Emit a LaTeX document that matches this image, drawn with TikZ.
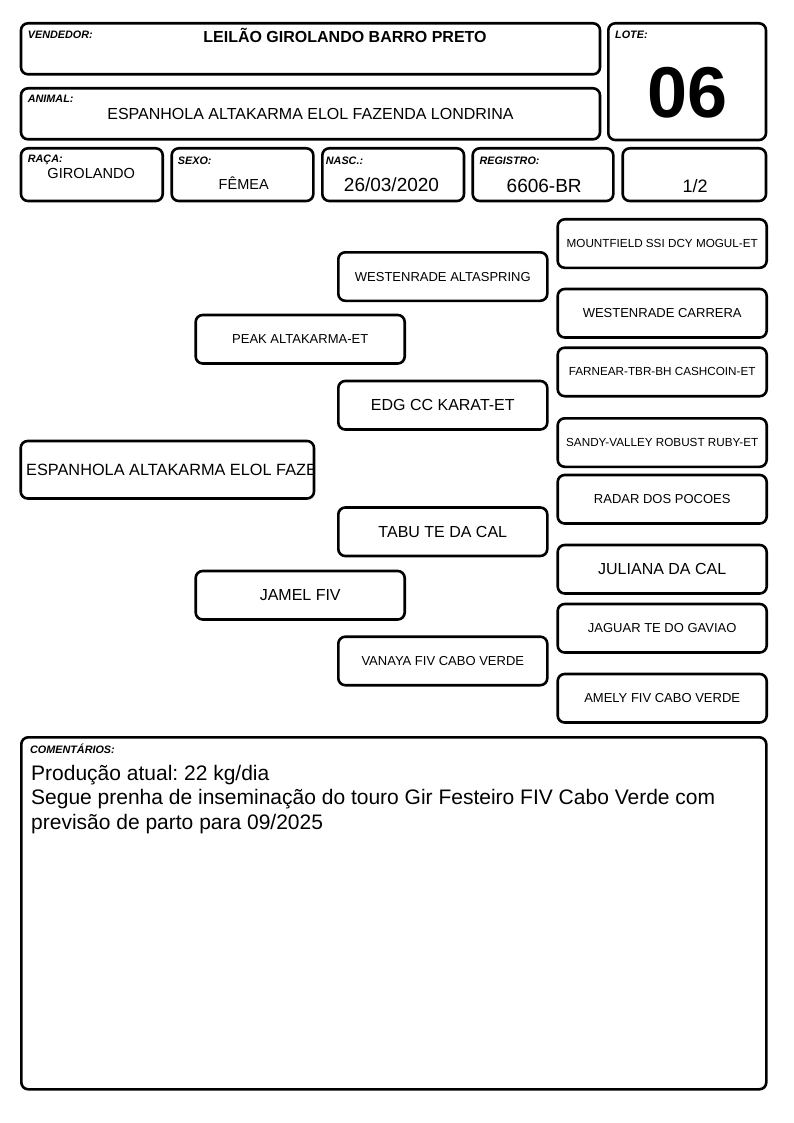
\documentclass[tikz,border=0pt]{standalone}
\usepackage{fontspec}
\setmainfont{Liberation Sans}
\frenchspacing
\begin{document}
\begin{tikzpicture}[x=1pt,y=-1pt,
  bx/.style={draw, line width=2.6pt, rounded corners=7pt, inner sep=0pt, outer sep=0pt, anchor=north west},
  lbl/.style={font=\fontsize{10.8}{12}\selectfont\bfseries\itshape, anchor=base west, inner sep=0pt},
  val/.style={anchor=base, inner sep=0pt},
  ped/.style={bx, minimum width=209pt, minimum height=48.5pt, align=center},
  pa/.style={font=\fontsize{11.7}{14}\selectfont},
  pb/.style={font=\fontsize{13}{15}\selectfont},
  pc/.style={font=\fontsize{16}{19}\selectfont},
  ]
\useasboundingbox (0,0) rectangle (794,1123);
% header boxes
\node[bx, minimum width=579pt, minimum height=51pt] (vend) at (21,23.3) {};
\node[bx, minimum width=579pt, minimum height=51pt] (anim) at (21,88.3) {};
\node[bx, minimum width=157.7pt, minimum height=116.7pt] (lote) at (608.3,23.3) {};
\node[bx, minimum width=141.7pt, minimum height=52.7pt] (raca) at (21,148.3) {};
\node[bx, minimum width=141.6pt, minimum height=52.7pt] (sexo) at (171.7,148.3) {};
\node[bx, minimum width=141.7pt, minimum height=52.7pt] (nasc) at (322.3,148.3) {};
\node[bx, minimum width=140.6pt, minimum height=52.7pt] (reg) at (472.7,148.3) {};
\node[bx, minimum width=143.3pt, minimum height=52.7pt] (part) at (622.7,148.3) {};
% header texts
\node[lbl] (vendL) at (27.7,39) {VENDEDOR:};
\node[val, font=\fontsize{16}{19}\selectfont\bfseries] (vendV) at (345,43) {LEILÃO GIROLANDO BARRO PRETO};
\node[lbl] (animL) at (27.7,103) {ANIMAL:};
\node[val, font=\fontsize{16}{19}\selectfont] (animV) at (310.5,119.3) {ESPANHOLA ALTAKARMA ELOL FAZENDA LONDRINA};
\node[lbl] (loteL) at (615,38.3) {LOTE:};
\node[val, font=\fontsize{72}{80}\selectfont\bfseries] (loteV) at (687.5,117.7) {06};
\node[lbl] (racaL) at (27.7,162.7) {RAÇA:};
\node[val, font=\fontsize{14.6}{17}\selectfont] (racaV) at (91.3,178.3) {GIROLANDO};
\node[lbl] (sexoL) at (177.7,165) {SEXO:};
\node[val, font=\fontsize{14.5}{17}\selectfont] (sexoV) at (243.7,189.3) {FÊMEA};
\node[lbl] (nascL) at (325.7,165) {NASC.:};
\node[val, font=\fontsize{19}{22}\selectfont] (nascV) at (391.5,192) {26/03/2020};
\node[lbl] (regL) at (479.3,165) {REGISTRO:};
\node[val, font=\fontsize{19}{22}\selectfont] (regV) at (544.2,192.3) {6606-BR};
\node[val, font=\fontsize{18}{21}\selectfont] (partV) at (695,192.5) {1/2};
% pedigree
\node[bx, minimum width=293.3pt, minimum height=57.5pt] (an) at (20.7,441) {};
\begin{scope}
  \clip (20.7,441) rectangle (314,498.5);
  \node[anchor=west, inner sep=0pt, font=\fontsize{16.3}{19}\selectfont] (anT) at (26,469.5) {ESPANHOLA ALTAKARMA ELOL FAZE};
\end{scope}
\node[ped, pb] (pai) at (195.7,315) {PEAK ALTAKARMA-ET};
\node[ped, pc] (mae) at (195.7,571) {JAMEL FIV};
\node[ped, pb] (avp) at (338.3,252.3) {WESTENRADE ALTASPRING};
\node[ped, pc] (avmp) at (338.3,381) {EDG CC KARAT-ET};
\node[ped, pc] (avpm) at (338.3,507.5) {TABU TE DA CAL};
\node[ped, pb] (avm) at (338.3,636.7) {VANAYA FIV CABO VERDE};
\node[ped, pa] (b1) at (557.7,219.3) {MOUNTFIELD SSI DCY MOGUL-ET};
\node[ped, pb] (b2) at (557.7,289) {WESTENRADE CARRERA};
\node[ped, pa] (b3) at (557.7,347.7) {FARNEAR-TBR-BH CASHCOIN-ET};
\node[ped, pa] (b4) at (557.7,418.3) {SANDY-VALLEY ROBUST RUBY-ET};
\node[ped, pb] (b5) at (557.7,475) {RADAR DOS POCOES};
\node[ped, pc] (b6) at (557.7,545) {JULIANA DA CAL};
\node[ped, pb] (b7) at (557.7,604) {JAGUAR TE DO GAVIAO};
\node[ped, pb] (b8) at (557.7,674) {AMELY FIV CABO VERDE};
% comments
\node[bx, minimum width=745pt, minimum height=352pt] (com) at (21.3,737.3) {};
\node[lbl] (comL) at (30,753.3) {COMENTÁRIOS:};
\node[anchor=base west, inner sep=0pt, font=\fontsize{21}{24.5}\selectfont] (c1) at (31,780) {Produção atual: 22 kg/dia};
\node[anchor=base west, inner sep=0pt, font=\fontsize{21}{24.5}\selectfont] (c2) at (31,804.5) {Segue prenha de inseminação do touro Gir Festeiro FIV Cabo Verde com};
\node[anchor=base west, inner sep=0pt, font=\fontsize{21}{24.5}\selectfont] (c3) at (31,829) {previsão de parto para 09/2025};
\end{tikzpicture}
\end{document}
